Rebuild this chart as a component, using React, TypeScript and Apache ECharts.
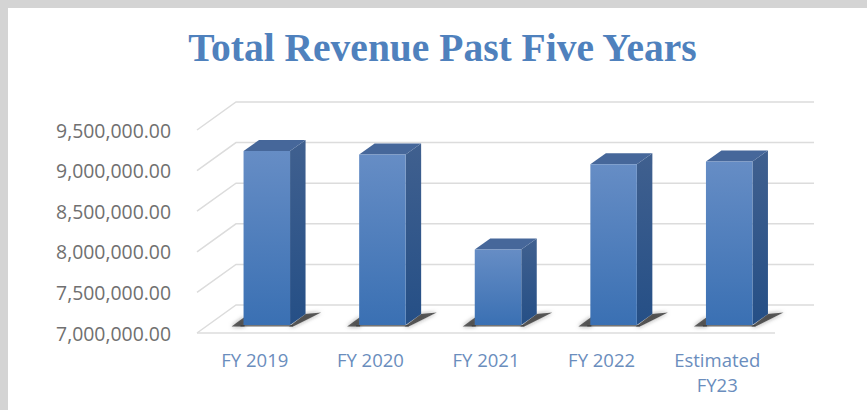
import React, { useEffect, useRef } from "react";
import * as echarts from "echarts";

const categories = ["FY 2019", "FY 2020", "FY 2021", "FY 2022", "Estimated\nFY23"];
const revenue = [9143000, 9100000, 7930000, 8980000, 9015000];
const axisTicks = [7000000, 7500000, 8000000, 8500000, 9000000, 9500000];
const titleText = "Total Revenue Past Five Years";

const WALL_DX = 39;
const WALL_DY = 28;
const BAR_DX = 12;
const BAR_DY = 8;
const DEPTH_DX = 15.5;
const DEPTH_DY = 11;
const BAR_W = 46.5;
const GRID_COLOR = "#dcdcdc";

const grad = (stops: [number, string][], x2 = 0, y2 = 1) =>
  new echarts.graphic.LinearGradient(0, 0, x2, y2, stops.map(([offset, color]) => ({ offset, color })));

function renderWall(params: any, api: any) {
  const cs = params.coordSys;
  const y = api.coord([0, api.value(1)])[1];
  const left = cs.x;
  const right = cs.x + cs.width;
  const lineStyle = { stroke: GRID_COLOR, lineWidth: 1.5, fill: "none" };
  const children: any[] = [
    {
      type: "polyline",
      shape: { points: [[left, y], [left + WALL_DX, y - WALL_DY], [right + WALL_DX, y - WALL_DY]] },
      style: lineStyle,
    },
  ];
  if (params.dataIndex === 0) {
    children.push({ type: "line", shape: { x1: left, y1: y, x2: right, y2: y }, style: lineStyle });
  }
  return { type: "group", children };
}

function renderBar(_params: any, api: any) {
  const center = api.coord([api.value(0), api.value(1)]);
  const floor = api.coord([api.value(0), axisTicks[0]]);
  const x0 = center[0] + BAR_DX - BAR_W / 2;
  const x1 = x0 + BAR_W;
  const top = center[1] - BAR_DY;
  const base = floor[1] - BAR_DY;
  const soft = { shadowBlur: 4, shadowColor: "rgba(40,40,40,0.6)" };
  return {
    type: "group",
    children: [
      {
        type: "polygon",
        shape: { points: [[x0 - 12, base + 1.5], [x0 + 1, base - 8], [x0 + 1, base + 1.5]] },
        style: { fill: "rgba(55,55,55,0.78)", ...soft },
      },
      {
        type: "polygon",
        shape: {
          points: [
            [x1 - 1, base + 1.5],
            [x1 + DEPTH_DX, base - DEPTH_DY],
            [x1 + 31, base - 12.5],
            [x1 + 3, base + 1.5],
          ],
        },
        style: { fill: "rgba(50,50,50,0.78)", ...soft },
      },
      {
        type: "rect",
        shape: { x: x0 - 3, y: base, width: BAR_W + 6, height: 1.5 },
        style: { fill: "rgba(60,60,60,0.6)", shadowBlur: 1.5, shadowColor: "rgba(40,40,40,0.4)" },
      },
      {
        type: "polygon",
        shape: { points: [[x1, top], [x1 + DEPTH_DX, top - DEPTH_DY], [x1 + DEPTH_DX, base - DEPTH_DY], [x1, base]] },
        style: { fill: grad([[0, "#40608f"], [1, "#254f86"]]) },
      },
      {
        type: "polygon",
        shape: { points: [[x0, top], [x0 + DEPTH_DX, top - DEPTH_DY], [x1 + DEPTH_DX, top - DEPTH_DY], [x1, top]] },
        style: { fill: "#46679a" },
      },
      {
        type: "rect",
        shape: { x: x0, y: top, width: BAR_W, height: base - top },
        style: { fill: grad([[0, "#668dc5"], [1, "#3a70b3"]]) },
      },
    ],
  };
}

export default function App() {
  const ref = useRef<HTMLDivElement>(null);
  useEffect(() => {
    document.body.style.margin = "0";
    const chart = echarts.init(ref.current!, undefined, { renderer: "svg" });
    chart.setOption({
      animation: false,
      backgroundColor: "transparent",
      title: {
        text: titleText,
        left: 437.5,
        top: 23,
        textAlign: "center",
        textStyle: {
          fontFamily: "'Liberation Serif', serif",
          fontWeight: "bold",
          fontSize: 39.5,
          color: "#4f81bd",
        },
      },
      grid: { left: 197, right: 92, top: 130, bottom: 77 },
      xAxis: {
        type: "category",
        data: categories,
        axisLine: { show: false },
        axisTick: { show: false },
        splitLine: { show: false },
        axisLabel: {
          interval: 0,
          margin: 14,
          fontFamily: "'Open Sans', sans-serif",
          fontSize: 18.5,
          lineHeight: 25,
          color: "#6a8dbd",
        },
      },
      yAxis: {
        type: "value",
        min: axisTicks[0],
        max: axisTicks[axisTicks.length - 1],
        interval: 500000,
        axisLine: { show: false },
        axisTick: { show: false },
        splitLine: { show: false },
        axisLabel: {
          margin: 26,
          fontFamily: "'Open Sans', sans-serif",
          fontSize: 19.4,
          color: "#707070",
          formatter: (v: number) =>
            v.toLocaleString("en-US", { minimumFractionDigits: 2, maximumFractionDigits: 2 }),
        },
      },
      series: [
        {
          type: "custom",
          name: "Gridlines",
          renderItem: renderWall,
          data: axisTicks.map((v) => [0, v]),
          encode: { x: 0, y: 1 },
          silent: true,
          z: 1,
        },
        {
          type: "custom",
          name: "Total Revenue",
          renderItem: renderBar,
          data: revenue.map((v, i) => [i, v]),
          encode: { x: 0, y: 1 },
          z: 2,
        },
      ],
    });
    return () => chart.dispose();
  }, []);
  return (
    <div style={{ position: "relative", width: 867, height: 410, background: "#d4d4d4", overflow: "hidden" }}>
      <div style={{ position: "absolute", left: 8, top: 8, right: 0, bottom: 0, background: "#ffffff" }} />
      <div ref={ref} style={{ position: "absolute", left: 0, top: 0, width: 867, height: 410 }} />
    </div>
  );
}
